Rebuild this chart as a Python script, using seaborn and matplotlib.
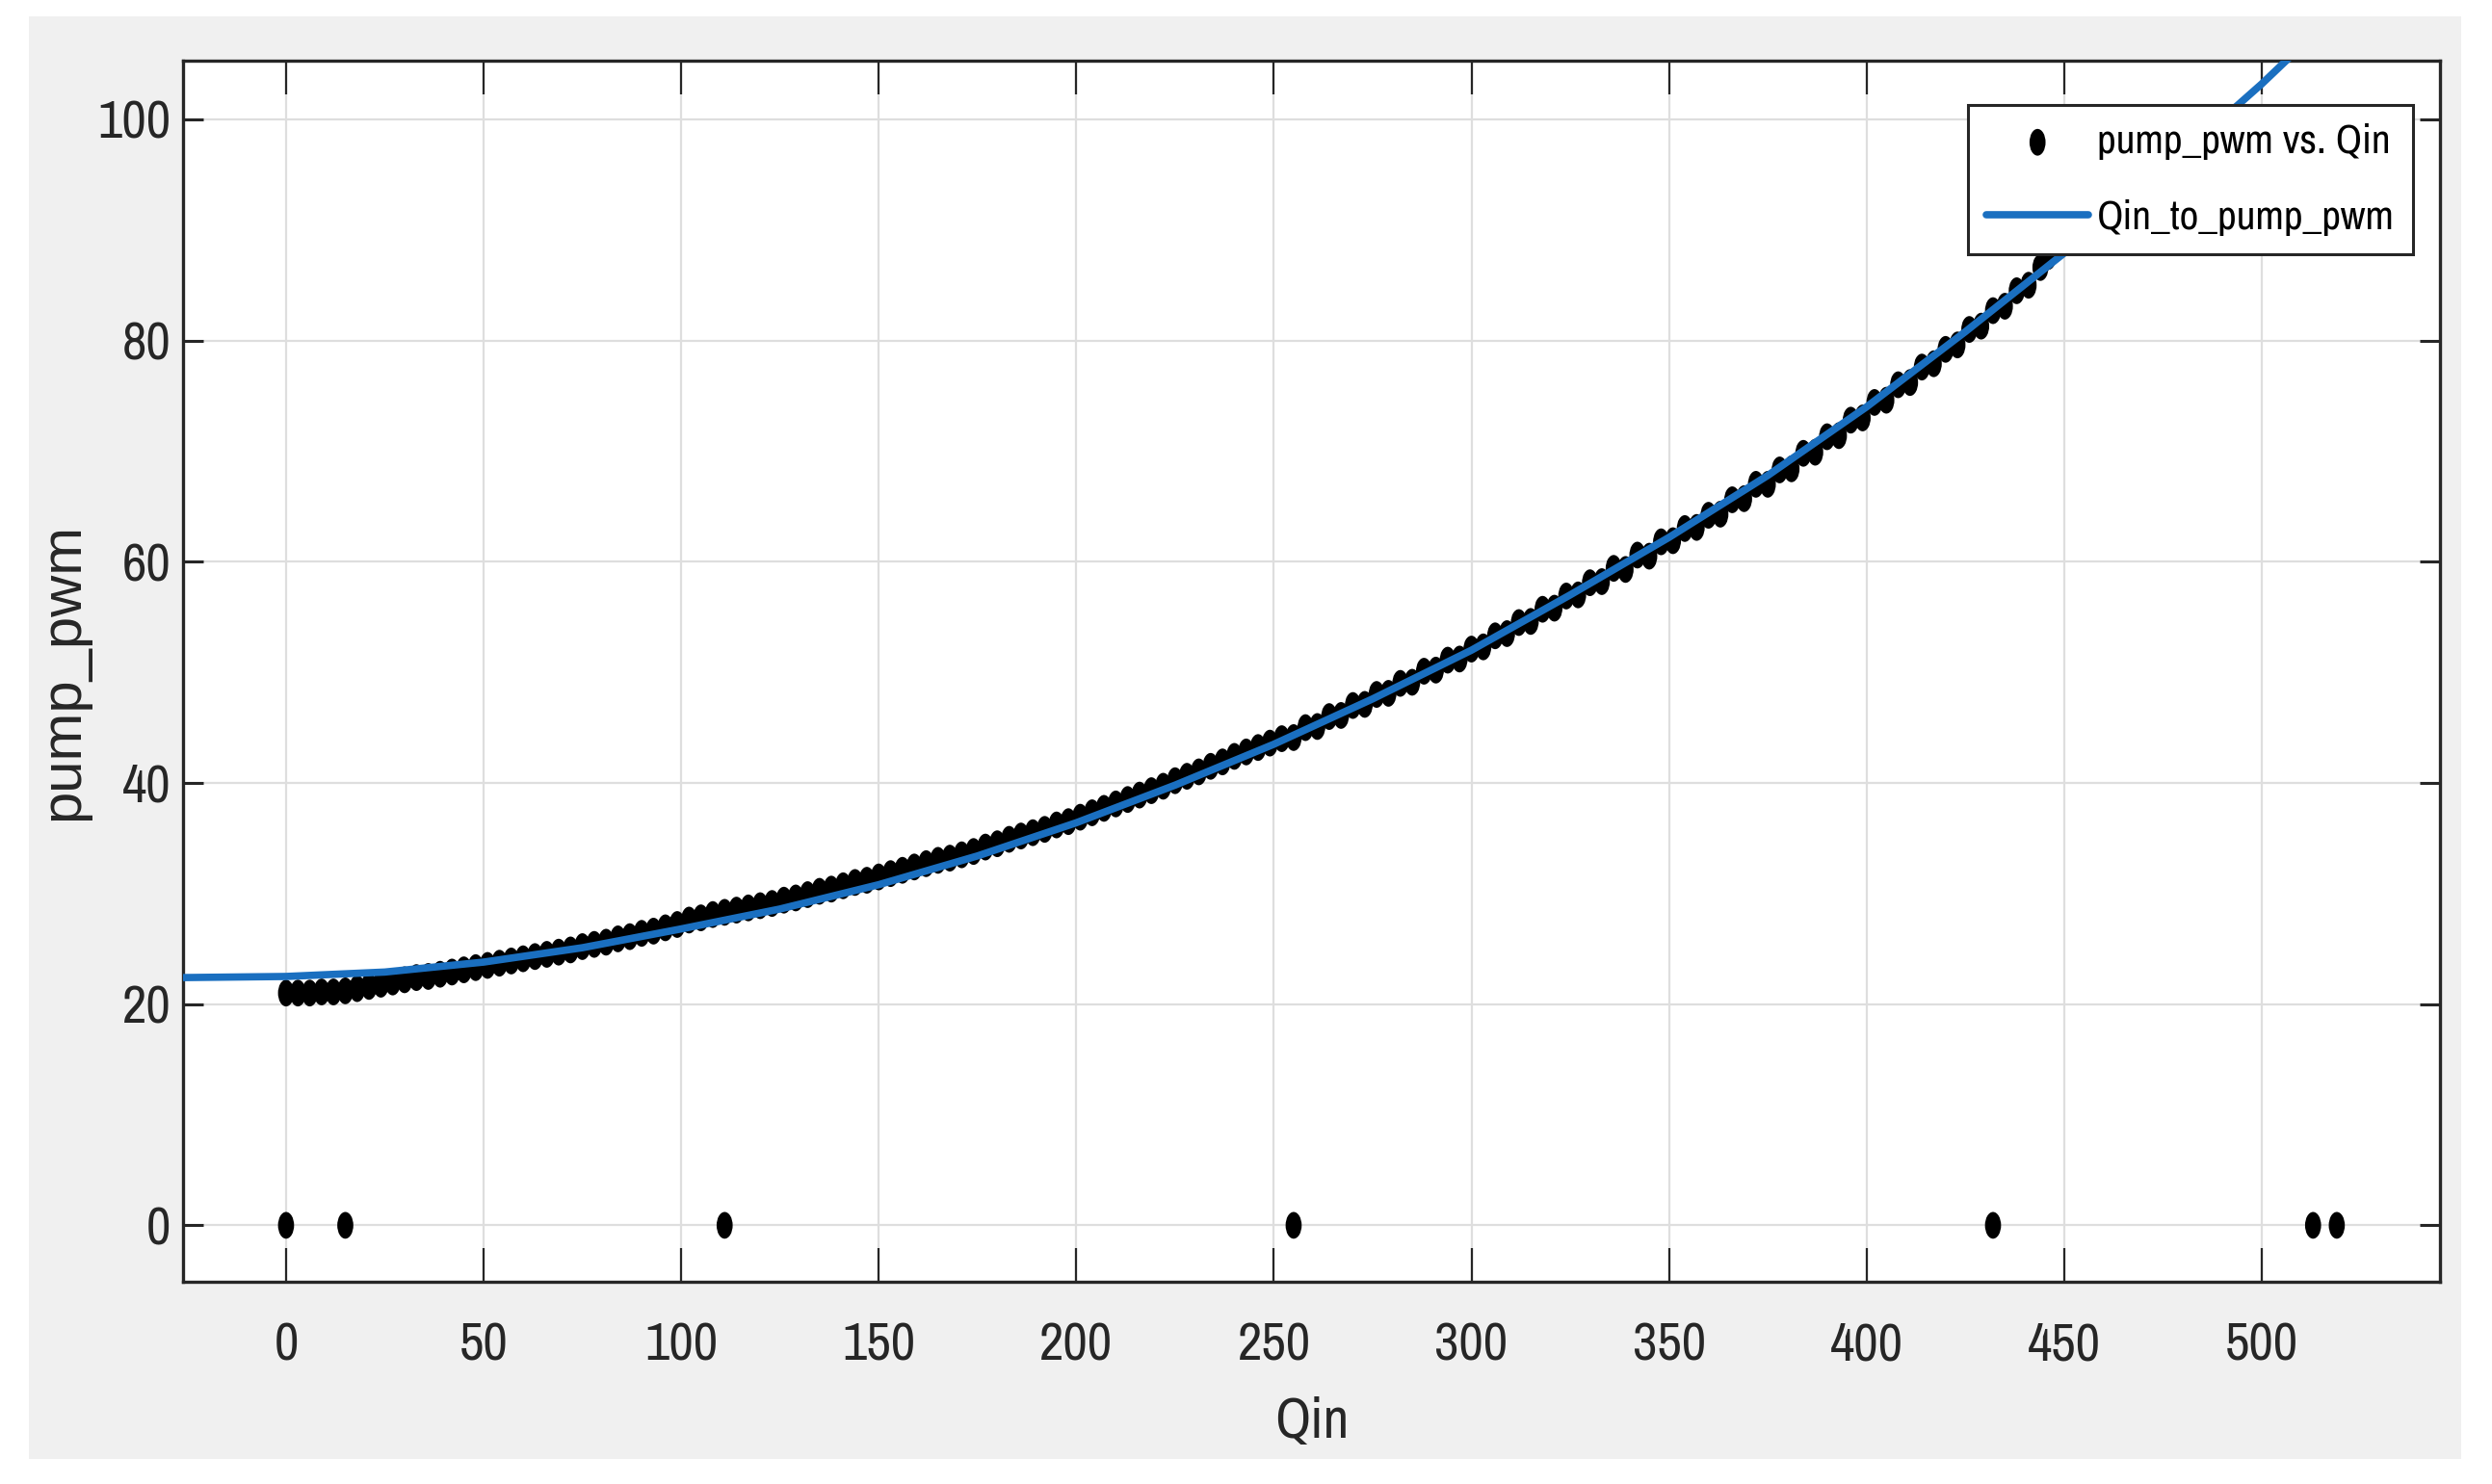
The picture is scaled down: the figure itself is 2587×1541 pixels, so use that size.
import matplotlib
matplotlib.use("Agg")
import pandas as pd
import matplotlib.pyplot as plt
from matplotlib import font_manager
from matplotlib.markers import MarkerStyle
from matplotlib.transforms import Affine2D
from matplotlib.patches import Rectangle
import seaborn as sns

# measured samples (pump_pwm vs. Qin)
qin = [
    0, 3, 6, 9, 12, 15, 18, 21, 24, 27, 30, 33, 36, 39, 42, 45, 48, 51, 54, 57,
    60, 63, 66, 69, 72, 75, 78, 81, 84, 87, 90, 93, 96, 99,
    102, 105, 108, 111, 114, 117, 120, 123, 126, 129, 132, 135, 138, 141, 144, 147,
    150, 153, 156, 159, 162, 165, 168, 171, 174, 177, 180, 183, 186, 189, 192, 195,
    198, 201, 204, 207, 210, 213, 216, 219, 222, 225, 228, 231, 234, 237, 240, 243,
    246, 249,
    252, 255, 258, 261, 264, 267, 270, 273, 276, 279, 282, 285, 288, 291, 294, 297,
    300, 303, 306, 309, 312, 315, 318, 321, 324, 327, 330, 333, 336, 339, 342, 345,
    348, 351, 354, 357, 360, 363, 366, 369, 372, 375, 378, 381, 384, 387, 390, 393,
    396, 399, 402, 405, 408, 411, 414, 417, 420, 423, 426, 429, 432, 435, 438, 441,
    444, 446,
]
pump_pwm = [
    21.0, 21.0, 21.0, 21.1, 21.1, 21.2, 21.4, 21.6, 21.8, 22.0, 22.2, 22.4, 22.5, 22.7,
    22.9, 23.1, 23.3, 23.5, 23.7, 23.9, 24.1, 24.3, 24.5, 24.7, 24.9, 25.2, 25.4, 25.6,
    25.9, 26.1, 26.4, 26.6, 26.9, 27.2,
    27.6, 27.8, 28.1, 28.3, 28.5, 28.7, 28.9, 29.1, 29.4, 29.6, 29.9, 30.2, 30.4, 30.7,
    31.0, 31.2, 31.5, 31.8, 32.1, 32.4, 32.7, 33.0, 33.2, 33.5, 33.8, 34.2, 34.5, 34.9,
    35.2, 35.5, 35.8, 36.2, 36.5, 36.9, 37.3, 37.7, 38.1, 38.5, 38.9, 39.3, 39.7, 40.2,
    40.6, 41.0, 41.5, 41.9, 42.4, 42.8, 43.2, 43.6,
    44.0, 44.1, 45.0, 45.1, 46.0, 46.1, 47.0, 47.1, 48.0, 48.1, 49.0, 49.1, 50.1, 50.2,
    51.1, 51.2, 52.1, 52.3, 53.3, 53.5, 54.5, 54.6, 55.7, 55.8, 56.9, 57.0, 58.1, 58.2,
    59.4, 59.3, 60.6, 60.5, 61.8, 61.9, 63.0, 63.1, 64.2, 64.3, 65.6, 65.7, 67.0, 67.0,
    68.3, 68.4, 69.8, 69.9, 71.3, 71.4, 72.8, 73.0, 74.4, 74.6, 76.0, 76.2, 77.6, 77.9,
    79.2, 79.6, 81.0, 81.3, 82.7, 83.1, 84.5, 85.0, 86.6, 87.6,
]
# samples where pump_pwm dropped to zero
qin_zero = [0, 15, 111, 255, 432, 513, 519]
pwm_zero = [0, 0, 0, 0, 0, 0, 0]

# fitted curve Qin_to_pump_pwm
fit_qin = [-26, 0, 25, 50, 75, 100, 125, 150, 175, 200, 225, 250, 275, 300, 325,
           350, 375, 400, 425, 450, 475, 500, 520]
fit_pwm = [22.4, 22.5, 22.9, 23.8, 25.1, 26.8, 28.6, 30.8, 33.4, 36.4, 39.8, 43.5,
           47.6, 52.0, 57.0, 62.2, 67.8, 74.0, 80.8, 87.9, 95.3, 103.2, 110.0]

x_ticks = [0, 50, 100, 150, 200, 250, 300, 350, 400, 450, 500]
y_ticks = [0, 20, 40, 60, 80, 100]


def pick_font(candidates):
    names = {f.name for f in font_manager.fontManager.ttflist}
    for n in candidates:
        if n in names:
            return n
    return "DejaVu Sans"


def main():
    sns.set_style("white")
    narrow = pick_font(["Liberation Sans Narrow", "Arial Narrow", "Archivo Narrow",
                        "PT Sans Narrow", "Roboto Condensed", "Liberation Sans"])
    regular = pick_font(["Liberation Sans", "Arial"])
    plt.rcParams["font.family"] = [narrow, "DejaVu Sans"]

    dark = "#262626"
    fig = plt.figure(figsize=(25.87, 15.41), dpi=100)
    fig.patch.set_facecolor("white")
    fig.patches.append(Rectangle((30 / 2587, 1 - 1515 / 1541), 2525 / 2587, 1498 / 1541,
                                 transform=fig.transFigure, facecolor="#f0f0f0",
                                 edgecolor="none", zorder=-10))
    ax = fig.add_axes([0.0734, 0.1363, 0.9057, 0.8228])
    ax.set_facecolor("white")

    df = pd.DataFrame({"Qin": qin + qin_zero, "pump_pwm": pump_pwm + pwm_zero})
    dot = MarkerStyle("o", transform=Affine2D().scale(0.6, 1.0))
    sns.scatterplot(data=df, x="Qin", y="pump_pwm", marker=dot, s=400, color="black",
                    edgecolor="none", linewidth=0, label="pump_pwm vs. Qin", ax=ax,
                    zorder=3)

    fit = pd.DataFrame({"Qin": fit_qin, "pwm": fit_pwm})
    sns.lineplot(data=fit, x="Qin", y="pwm", sort=False, color="#1a6fc0", linewidth=5.5,
                 label="Qin_to_pump_pwm", ax=ax, zorder=4)

    ax.set_xlim(-26.1, 545.1)
    ax.set_ylim(-5.1, 105.3)
    ax.set_xticks(x_ticks)
    ax.set_yticks(y_ticks)
    ax.grid(True, color="#dedede", linewidth=1.6)
    ax.set_axisbelow(True)
    for s in ax.spines.values():
        s.set_visible(True)
        s.set_color(dark)
        s.set_linewidth(2.4)

    ax.tick_params(axis="x", direction="in", length=25, width=1.6, color=dark,
                   labelcolor=dark, labelsize=40, pad=30, top=True, bottom=True)
    ax.tick_params(axis="y", direction="in", length=15, width=2.2, color=dark,
                   labelcolor=dark, labelsize=40, pad=9, left=True, right=True)

    ax.set_xlabel("Qin", fontsize=42, color=dark, labelpad=20)
    ax.set_ylabel("pump_pwm", fontsize=43, color=dark, labelpad=6,
                  family=[regular, "DejaVu Sans"])

    leg = ax.legend(loc="upper right", bbox_to_anchor=(0.988, 0.964), fontsize=31,
                    frameon=True, fancybox=False, framealpha=1, edgecolor=dark,
                    handlelength=2.45, handletextpad=0.2, borderpad=0.45,
                    labelspacing=0.95, borderaxespad=0)
    leg.get_frame().set_linewidth(2.2)
    for t in leg.get_texts():
        t.set_color("black")

    fig.savefig("out.png", dpi=100, facecolor=fig.get_facecolor())


if __name__ == "__main__":
    main()
